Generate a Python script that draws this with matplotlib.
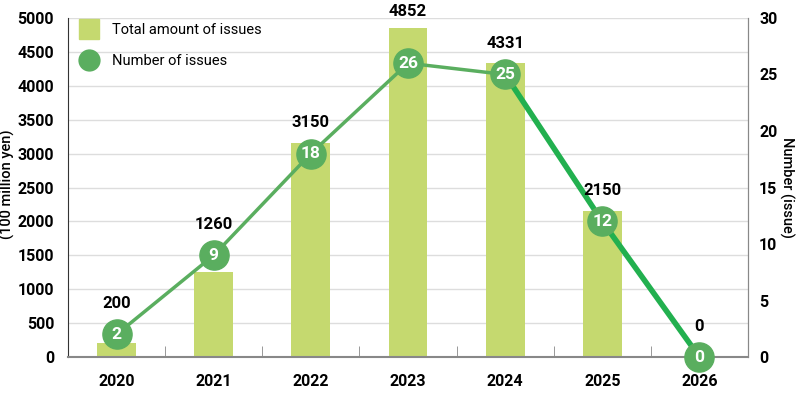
import matplotlib
matplotlib.use("Agg")
import matplotlib.pyplot as plt
from matplotlib.lines import Line2D
import numpy as np

plt.rcParams['font.family'] = ['Roboto', 'DejaVu Sans']

years = ["2020", "2021", "2022", "2023", "2024", "2025", "2026"]
amounts = [200, 1260, 3150, 4852, 4331, 2150, 0]
counts = [2, 9, 18, 26, 25, 12, 0]

barColor = "#c5d96f"
dotColor = "#5aae5f"
lineColor = "#5aae5f"
lineColor2 = "#22b04f"

fig = plt.figure(figsize=(8, 3.93), dpi=100)
ax = fig.add_axes([0.085, 0.0916, 0.85, 0.8626])
ax2 = ax.twinx()

x = np.arange(len(years))

ax.bar(x, amounts, width=0.4, color=barColor, zorder=2)
ax.set_xlim(-0.5, 6.5)
ax.set_ylim(0, 5000)
ax.set_yticks(np.arange(0, 5001, 500))
ax.yaxis.grid(True, color="#dddddd", lw=1)
ax.set_axisbelow(True)
ax.set_xticks(x)
ax.set_xticklabels(years, fontsize=11.5, fontweight="bold")
ax.set_xticks(x[:-1] + 0.5, minor=True)
ax.tick_params(axis="x", which="major", length=0, pad=12)
ax.tick_params(axis="x", which="minor", direction="in", length=8, color="#888888")
ax.tick_params(axis="y", length=0, pad=10, labelsize=11.5)
for lab in ax.get_yticklabels():
    lab.set_fontweight("bold")
ax.set_ylabel("(100 million yen)", fontsize=10.5, fontweight="medium")
ax.yaxis.set_label_coords(-0.078, 0.51)

ax.spines["top"].set_visible(False)
ax.spines["left"].set_color("#333333")
ax.spines["bottom"].set_color("#888888")
ax.spines["bottom"].set_linewidth(1.5)
ax.spines["right"].set_color("#888888")

ax2.set_ylim(0, 30)
ax2.set_yticks(np.arange(0, 31, 5))
ax2.tick_params(axis="y", length=0, pad=8, labelsize=11.5)
for lab in ax2.get_yticklabels():
    lab.set_fontweight("bold")
ax2.spines["top"].set_visible(False)
ax2.spines["left"].set_visible(False)
ax2.spines["bottom"].set_visible(False)
ax2.spines["right"].set_color("#888888")
ax2.set_ylabel("Number (issue)", fontsize=10.5, fontweight="medium", rotation=-90, labelpad=12)

# line: first part thin, last part thick
ax2.plot(x[:5], counts[:5], color=lineColor, lw=2.5, zorder=3)
ax2.plot(x[4:], counts[4:], color=lineColor2, lw=4, zorder=3, clip_on=False)
ax2.plot(x, counts, "o", color=dotColor, markersize=21, zorder=4, clip_on=False)
for i, c in enumerate(counts):
    ax2.text(i, c, str(c), color="white", fontsize=12.5, fontweight="bold",
             ha="center", va="center", zorder=5)

# amount labels above bar or marker, whichever is higher
r = 14 * 5000 / 339
for i, a in enumerate(amounts):
    top = max(a, counts[i] * 5000 / 30 + r)
    ax2.annotate(str(a), xy=(i, top), xycoords=ax.transData,
                 xytext=(0, 12), textcoords="offset points",
                 ha="center", va="center", fontsize=12, fontweight="bold", zorder=6)

handles = [
    Line2D([], [], marker="s", color=barColor, linestyle="none", markersize=14),
    Line2D([], [], marker="o", color=dotColor, linestyle="none", markersize=15),
]
leg = ax2.legend(handles, ["Total amount of issues", "Number of issues"],
                 loc="upper left", bbox_to_anchor=(-0.008, 1.02), frameon=False,
                 fontsize=10.5, labelspacing=1.2, handletextpad=0.6,
                 borderaxespad=0.4)

fig.savefig("out.png", dpi=100)
